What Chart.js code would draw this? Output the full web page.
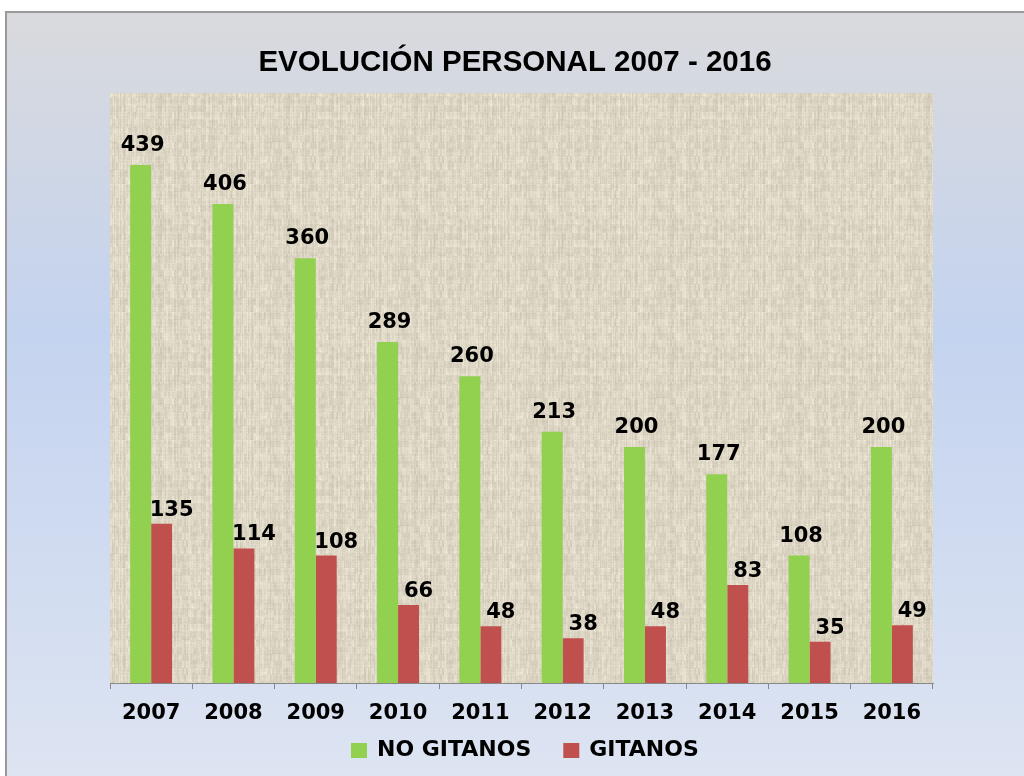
<!DOCTYPE html>
<html>
<head>
<meta charset="utf-8">
<script src="https://cdn.jsdelivr.net/npm/chart.js@4.4.1/dist/chart.umd.min.js"></script>
<style>
  html, body { margin: 0; padding: 0; background: #ffffff; }
  #wrap { width: 1024px; height: 776px; position: relative; }
</style>
</head>
<body>
<div id="wrap"><canvas id="c" width="1024" height="776"></canvas></div>
<script>
// ---- data ----
const years = ['2007','2008','2009','2010','2011','2012','2013','2014','2015','2016'];
const noGitanos = [439, 406, 360, 289, 260, 213, 200, 177, 108, 200];
const gitanos = [135, 114, 108, 66, 48, 38, 48, 83, 35, 49];
const seriesNames = ['NO GITANOS', 'GITANOS'];
const chartTitle = 'EVOLUCIÓN PERSONAL 2007 - 2016';

// ---- texture for the plot area (deterministic weave) ----
function hash(n) { const s = Math.sin(n * 12.9898) * 43758.5453; return s - Math.floor(s); }
function makeTexture(ctx) {
  const W = 128, H = 128;
  const cv = document.createElement('canvas'); cv.width = W; cv.height = H;
  const c = cv.getContext('2d');
  const img = c.createImageData(W, H);
  for (let y = 0; y < H; y++) {
    const hy = hash(y * 3.1 + 7) - 0.5;
    for (let x = 0; x < W; x++) {
      const hx = hash(x * 1.7 + 13) - 0.5;
      const hxy = hash(x * 57.3 + y * 113.7) - 0.5;
      const hb = hash(Math.floor(x / 2) * 11.1 + Math.floor(y / 7) * 29.3) - 0.5;
      const hc = hash(Math.floor(x / 9) * 5.7 + Math.floor(y / 4) * 17.9) - 0.5;
      let v = 14 * hx + 7 * hy + 10 * hxy + 16 * hb + 8 * hc;
      const i = (y * W + x) * 4;
      img.data[i] = Math.max(0, Math.min(255, 222 + v));
      img.data[i + 1] = Math.max(0, Math.min(255, 214 + v));
      img.data[i + 2] = Math.max(0, Math.min(255, 197 + v));
      img.data[i + 3] = 255;
    }
  }
  c.putImageData(img, 0, 0);
  return ctx.createPattern(cv, 'repeat');
}

const bgPlugin = {
  id: 'bg',
  beforeDraw(chart) {
    const ctx = chart.ctx;
    const W = chart.width, H = chart.height;
    ctx.save();
    ctx.fillStyle = '#ffffff';
    ctx.fillRect(0, 0, W, H);
    const g = ctx.createLinearGradient(0, 12, 0, H);
    g.addColorStop(0, '#d9dadd');
    g.addColorStop(0.42, '#c4d3ef');
    g.addColorStop(1, '#dde4f2');
    ctx.fillStyle = g;
    ctx.fillRect(6, 12, W - 6, H - 12);
    ctx.strokeStyle = '#9a9a9a';
    ctx.lineWidth = 2;
    ctx.beginPath();
    ctx.moveTo(6, H); ctx.lineTo(6, 12); ctx.lineTo(W, 12);
    ctx.stroke();
    // plot area texture
    const a = chart.chartArea;
    ctx.fillStyle = makeTexture(ctx);
    ctx.fillRect(a.left, a.top, a.right - a.left, a.bottom - a.top);
    // title
    ctx.fillStyle = '#000000';
    ctx.font = 'bold 29.5px "Liberation Sans", Arial, sans-serif';
    ctx.textAlign = 'center';
    ctx.textBaseline = 'alphabetic';
    ctx.fillText(chartTitle, 515, 71);
    ctx.restore();
  },
  afterDraw(chart) {
    // legend
    const ctx = chart.ctx;
    ctx.save();
    ctx.font = 'bold 22px "DejaVu Sans", Verdana, sans-serif';
    ctx.textAlign = 'left';
    ctx.textBaseline = 'middle';
    let x = 351;
    const cy = 750.5;
    chart.data.datasets.forEach((ds) => {
      ctx.fillStyle = ds.backgroundColor;
      ctx.fillRect(x, cy - 7.5, 16, 15);
      ctx.fillStyle = '#000000';
      ctx.fillText(ds.label, x + 26, cy);
      x += 26 + ctx.measureText(ds.label).width + 32;
    });
    ctx.restore();
  }
};

const labelStyle = [ { dx: 2, gap: 14 }, { dx: 10, gap: 8 } ];
const labelPlugin = {
  id: 'vlabels',
  afterDatasetsDraw(chart) {
    const ctx = chart.ctx;
    ctx.save();
    ctx.fillStyle = '#000000';
    ctx.font = 'bold 21px "DejaVu Sans", Verdana, sans-serif';
    ctx.textAlign = 'center';
    ctx.textBaseline = 'alphabetic';
    chart.data.datasets.forEach((ds, di) => {
      const meta = chart.getDatasetMeta(di);
      meta.data.forEach((el, i) => {
        const st = labelStyle[di];
        ctx.fillText(String(ds.data[i]), el.x + st.dx, el.y - st.gap);
      });
    });
    ctx.restore();
  }
};

new Chart(document.getElementById('c'), {
  type: 'bar',
  data: {
    labels: years,
    datasets: [
      { label: seriesNames[0], data: noGitanos, backgroundColor: '#92d050', borderWidth: 0,
        categoryPercentage: 0.51, barPercentage: 1.0, yAxisID: 'y' },
      { label: seriesNames[1], data: gitanos, backgroundColor: '#c0504d', borderWidth: 0,
        categoryPercentage: 0.51, barPercentage: 1.0, yAxisID: 'y' }
    ]
  },
  options: {
    responsive: false,
    animation: false,
    devicePixelRatio: 1,
    layout: { padding: { top: 93, left: 18, right: 0, bottom: 0 } },
    plugins: {
      title: { display: false },
      tooltip: { enabled: false },
      legend: { display: false }
    },
    scales: {
      x: {
        position: 'bottom',
        grid: { display: true, drawOnChartArea: false, drawTicks: true, tickLength: 6, color: '#888888', offset: true },
        border: { display: true, color: '#888888', width: 1 },
        ticks: { color: '#000000', padding: 12, font: { family: '"DejaVu Sans", Verdana, sans-serif', size: 21, weight: 'bold' } },
        afterFit(s) { s.height = 93; }
      },
      y: {
        position: 'left',
        min: 0, max: 500,
        grid: { display: false },
        border: { display: false },
        ticks: { display: false },
        afterFit(s) { s.width = 92; }
      },
      y2: {
        position: 'right',
        min: 0, max: 500,
        grid: { display: false },
        border: { display: false },
        ticks: { display: false },
        afterFit(s) { s.width = 91; }
      }
    }
  },
  plugins: [bgPlugin, labelPlugin]
});
</script>
</body>
</html>
